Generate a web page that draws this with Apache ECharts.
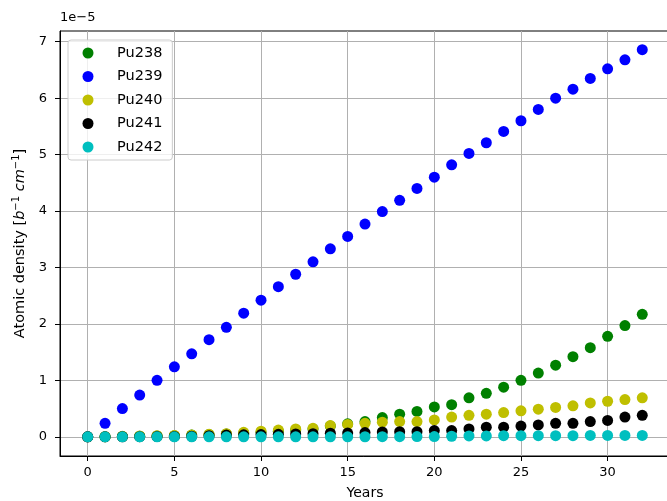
<!DOCTYPE html>
<html>
<head>
<meta charset="utf-8">
<script src="https://cdn.jsdelivr.net/npm/echarts@6/dist/echarts.min.js"></script>
<style>
html,body{margin:0;padding:0;background:#fff;}
#chart{width:667px;height:501px;}
</style>
</head>
<body>
<div id="chart"></div>
<script>
// Values in units of 1e-5 b^-1 cm^-1
const years = [0,1,2,3,4,5,6,7,8,9,10,11,12,13,14,15,16,17,18,19,20,21,22,23,24,25,26,27,28,29,30,31,32];
const pu238 = [0,0.003,0.006,0.01,0.015,0.02,0.03,0.04,0.05,0.065,0.08,0.10,0.12,0.14,0.19,0.23,0.27,0.34,0.40,0.45,0.53,0.57,0.69,0.77,0.88,1.00,1.13,1.27,1.42,1.58,1.78,1.97,2.17];
const pu239 = [0,0.24,0.50,0.74,1.00,1.24,1.47,1.72,1.94,2.19,2.42,2.66,2.88,3.10,3.33,3.55,3.77,3.99,4.19,4.40,4.60,4.82,5.02,5.21,5.41,5.60,5.80,6.00,6.16,6.35,6.52,6.68,6.86];
const pu240 = [0,0.003,0.008,0.015,0.02,0.025,0.03,0.045,0.055,0.08,0.10,0.12,0.14,0.15,0.20,0.22,0.24,0.26,0.27,0.27,0.30,0.35,0.38,0.40,0.43,0.46,0.49,0.52,0.55,0.60,0.63,0.66,0.69];
const pu241 = [0,0,0.001,0.002,0.004,0.006,0.01,0.02,0.03,0.035,0.04,0.045,0.05,0.055,0.065,0.067,0.075,0.085,0.09,0.09,0.11,0.11,0.14,0.17,0.17,0.19,0.21,0.24,0.24,0.27,0.29,0.35,0.38];
const pu242 = [0,0,0,0,0,0,0,0,0,0,0,0,0,0,0,0,0.001,0.002,0.003,0.004,0.005,0.01,0.015,0.015,0.02,0.02,0.02,0.02,0.02,0.025,0.025,0.025,0.025];
const seriesNames = ['Pu238','Pu239','Pu240','Pu241','Pu242'];
const seriesValues = [pu238, pu239, pu240, pu241, pu242];
const seriesColors = ['#008000','#0000ff','#bfbf00','#000000','#00bfbf'];
const xTicks = [0,5,10,15,20,25,30];
const yTicks = [0,1,2,3,4,5,6,7];
const offsetText = '1e\u22125';

const FONT = 'DejaVu Sans';
const chart = echarts.init(document.getElementById('chart'), null, {renderer:'canvas'});

const series = seriesNames.map((name, i) => ({
  name: name,
  type: 'scatter',
  symbol: 'circle',
  symbolSize: 11,
  itemStyle: {color: seriesColors[i], opacity: 1},
  data: years.map((y, j) => [y, seriesValues[i][j]]),
  animation: false,
  z: 3 + i
}));

chart.setOption({
  backgroundColor: '#ffffff',
  animation: false,
  grid: {
    left: 60, right: -3, top: 31, bottom: 45,
    outerBoundsMode: 'none',
    containLabel: false,
    show: true, borderColor: '#000', borderWidth: 1, backgroundColor: 'transparent'
  },
  legend: {
    orient: 'vertical',
    left: 68, top: 40,
    padding: [5, 10, 5, 14.5],
    itemWidth: 24, itemHeight: 11, itemGap: 7.5,
    backgroundColor: 'rgba(255,255,255,0.8)',
    borderColor: '#cccccc', borderWidth: 1, borderRadius: 3,
    icon: 'circle',
    textStyle: {fontFamily: FONT, fontSize: 14.5, color: '#000', lineHeight: 16, padding: [0,0,0,12]},
    data: seriesNames
  },
  xAxis: {
    type: 'value',
    min: -1.6, max: 33.6, interval: 5,
    name: 'Years',
    nameLocation: 'middle', nameGap: 30,
    nameTextStyle: {fontFamily: FONT, fontSize: 14, color: '#000'},
    axisLine: {show: true, onZero: false, lineStyle: {color: '#000', width: 1}},
    axisTick: {show: true, length: 5, lineStyle: {color: '#000'}, customValues: xTicks},
    axisLabel: {fontFamily: FONT, fontSize: 13, color: '#000', margin: 10, customValues: xTicks},
    splitLine: {show: true, lineStyle: {color: '#b0b0b0', width: 1}}
  },
  yAxis: {
    type: 'value',
    min: -0.34, max: 7.19, interval: 1,
    name: '{n|Atomic density [}{i|b}{s|\u22121}{n| }{i|cm}{s|\u22121}{n|]}',
    nameLocation: 'middle', nameGap: 30, nameRotate: 90,
    nameTextStyle: {
      fontFamily: FONT, fontSize: 14.5, color: '#000',
      rich: {
        n: {fontFamily: FONT, fontSize: 14.5, color: '#000'},
        i: {fontFamily: FONT, fontSize: 14.5, fontStyle: 'italic', color: '#000'},
        s: {fontFamily: FONT, fontSize: 10, color: '#000', padding: [0,0,8,0]}
      }
    },
    axisLine: {show: true, onZero: false, lineStyle: {color: '#000', width: 1}},
    axisTick: {show: true, length: 5, lineStyle: {color: '#000'}, customValues: yTicks},
    axisLabel: {fontFamily: FONT, fontSize: 13, color: '#000', margin: 13, customValues: yTicks},
    splitLine: {show: true, lineStyle: {color: '#b0b0b0', width: 1}}
  },
  graphic: [{
    type: 'text', left: 60, top: 11,
    style: {text: offsetText, fontFamily: FONT, fontSize: 13, fill: '#000'}
  }],
  series: series
});
</script>
</body>
</html>
